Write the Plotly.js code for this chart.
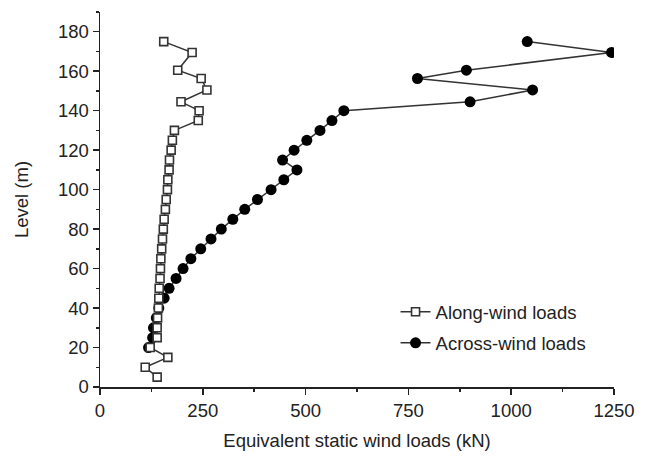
<!DOCTYPE html>
<html>
<head>
<meta charset="utf-8">
<script src="https://cdn.plot.ly/plotly-3.0.1.min.js"></script>
<style>html,body{margin:0;padding:0;background:#fff}#chart{width:652px;height:462px}</style>
</head>
<body>
<div id="chart"></div>
<script>
// Levels (m)
const alongLevels = [175,169.5,160.5,156.3,150.5,144.5,140,135,130,125,120,115,110,105,100,95,90,85,80,75,70,65,60,55,50,45,40,35,30,25,20,15,10,5];
// Along-wind equivalent static loads (kN)
const alongLoads = [155,224,189,246,260,197,241,239,181,176,173,169,168,165,164,161,159,156,154,152,150,148,147,146,144,143,142,140,139,139,122,165,110,139];

const acrossLevels = [175,169.5,160.5,156.3,150.5,144.5,140,135,130,125,120,115,110,105,100,95,90,85,80,75,70,65,60,55,50,45,40,35,30,25,20];
// Across-wind equivalent static loads (kN)
const acrossLoads = [1039,1244,891,772,1052,900,593,564,535,503,472,444,479,447,416,383,352,323,295,270,245,221,202,185,168,156,143,137,130,128,118];

const xTickVals = [0,250,500,750,1000,1250];
const yTickVals = [0,20,40,60,80,100,120,140,160,180];

const ink = '#222';
const font = "Liberation Sans, Arial, sans-serif";
const fs = 18.5;

const traces = [
  {
    x: acrossLoads, y: acrossLevels, name: 'Across-wind loads',
    type: 'scatter', mode: 'lines+markers',
    line: {color: '#333', width: 1.5},
    marker: {symbol: 'circle', size: 11, color: '#000', line: {width: 0}},
    legendgroup: 'b', legendrank: 2
  },
  {
    x: alongLoads, y: alongLevels, name: 'Along-wind loads',
    type: 'scatter', mode: 'lines+markers',
    line: {color: '#333', width: 1.5},
    marker: {symbol: 'square', size: 8, color: '#fff', line: {color: '#333', width: 1.6}},
    legendgroup: 'a', legendrank: 1
  }
];

const axisCommon = {
  showgrid: false, zeroline: false, showline: true,
  linecolor: ink, linewidth: 1.5,
  ticks: 'outside', ticklen: 6, tickwidth: 1.5, tickcolor: ink,
  tickfont: {family: font, size: fs, color: ink},
  minor: {ticks: 'outside', ticklen: 3, tickwidth: 1.5, tickcolor: ink}
};

const layout = {
  width: 652, height: 462,
  margin: {l: 100, r: 38, t: 12, b: 75},
  paper_bgcolor: '#fff', plot_bgcolor: '#fff',
  showlegend: true,
  legend: {
    x: 0.575, y: 0.25, xanchor: 'left', yanchor: 'top',
    bgcolor: 'rgba(0,0,0,0)', borderwidth: 0,
    font: {family: font, size: fs, color: ink},
    traceorder: 'grouped', tracegroupgap: 4
  },
  xaxis: Object.assign({}, axisCommon, {
    range: [0, 1250], tickmode: 'array', tickvals: xTickVals,
    minor: Object.assign({}, axisCommon.minor, {dtick: 125, tick0: 0}),
    title: {text: 'Equivalent static wind loads (kN)', font: {family: font, size: fs, color: ink}, standoff: 14}
  }),
  yaxis: Object.assign({}, axisCommon, {
    range: [0, 190], tickmode: 'array', tickvals: yTickVals,
    minor: Object.assign({}, axisCommon.minor, {dtick: 10, tick0: 0}),
    title: {text: 'Level (m)', font: {family: font, size: fs, color: ink}, standoff: 24}
  })
};

Plotly.newPlot('chart', traces, layout, {displayModeBar: false, staticPlot: true});
</script>
</body>
</html>
